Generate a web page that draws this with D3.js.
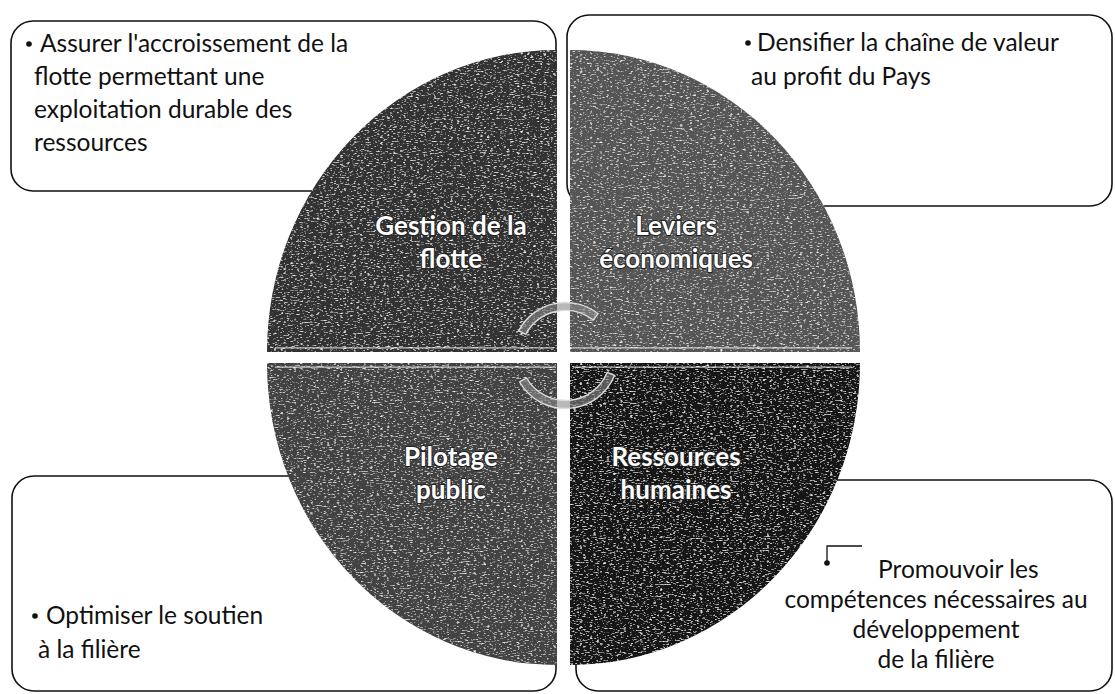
<!DOCTYPE html>
<meta charset="utf-8">
<style>
  body { margin: 0; background: #fff; }
  svg { display: block; }
  .box-text { font-family: Lato, "Open Sans", sans-serif; font-size: 24.5px; fill: #111; }
  .quad-label { font-family: Lato, "Open Sans", sans-serif; font-size: 26px; font-weight: bold; fill: #fff;
                paint-order: stroke; stroke: #222; stroke-width: 2px; }
</style>
<svg id="chart" width="1115" height="694"></svg>
<script src="https://cdn.jsdelivr.net/npm/d3@7"></script>
<script>
// quadrants, clockwise from top-left
var quadLabels = [["Gestion de la", "flotte"], ["Leviers", "économiques"], ["Ressources", "humaines"], ["Pilotage", "public"]];
var quadShares = [25, 25, 25, 25];
var quadColors = ["#303030", "#555555", "#121212", "#424242"];

// text of the four corner boxes (same order)
var boxTopLeft = ["Assurer l'accroissement de la", "flotte permettant  une", "exploitation durable des", "ressources"];
var boxTopRight = ["Densifier la chaîne de valeur", "au profit du Pays"];
var boxBottomRight = ["Promouvoir les", "compétences nécessaires au", "développement", "de la filière"];
var boxBottomLeft = ["Optimiser le soutien", "à la filière"];

var svg = d3.select("#chart");
var width = 1115, height = 694;

// the circle is a little taller than wide in the scan
var cx = 563.5, cy = 357.5, rx = 290, ry = 302;
var gapX = 6.5, gapY = 5.5;

// ---- boxes behind the circle
var boxes = [
  {x: 11, y: 21, w: 545, h: 170},
  {x: 567, y: 15, w: 545, h: 191},
  {x: 576, y: 480, w: 536, h: 211},
  {x: 12, y: 476, w: 544, h: 215}
];
svg.append("g").selectAll("rect").data(boxes).join("rect")
  .attr("x", d => d.x).attr("y", d => d.y)
  .attr("width", d => d.w).attr("height", d => d.h)
  .attr("rx", 22).attr("ry", 22)
  .attr("fill", "#fff").attr("stroke", "#111").attr("stroke-width", 1.6);

// grain to imitate the halftone of the scan (horizontal streaks)
var defs = svg.append("defs");
var f = defs.append("filter").attr("id", "grain").attr("x", 0).attr("y", 0).attr("width", 1).attr("height", 1);
f.append("feTurbulence").attr("type", "fractalNoise").attr("baseFrequency", "0.3 0.95").attr("numOctaves", 2).attr("seed", 4).attr("result", "n");
f.append("feColorMatrix").attr("in", "n").attr("type", "matrix")
  .attr("values", "0 0 0 0 1  0 0 0 0 1  0 0 0 0 1  3 0 0 0 -1.7").attr("result", "w");
f.append("feComposite").attr("in", "w").attr("in2", "SourceGraphic").attr("operator", "in").attr("result", "wm");
var m = f.append("feMerge");
m.append("feMergeNode").attr("in", "SourceGraphic");
m.append("feMergeNode").attr("in", "wm");

// ---- quadrants
var pie = d3.pie().sort(null).startAngle(-Math.PI / 2).endAngle(Math.PI * 1.5);
var arc = d3.arc().innerRadius(0).outerRadius(rx);
var labelArc = d3.arc().innerRadius(150).outerRadius(150);
var slices = pie(quadShares);
var signs = [[-1, -1], [1, -1], [1, 1], [-1, 1]];

var quads = svg.append("g").selectAll("g").data(slices).join("g")
  .attr("transform", (d, i) => "translate(" + (cx + signs[i][0] * gapX) + "," + (cy + signs[i][1] * gapY) + ") scale(1," + (ry / rx) + ")");

quads.append("path")
  .attr("d", arc)
  .attr("fill", (d, i) => quadColors[i])
  .attr("filter", "url(#grain)");

// thin white highlight along the flat horizontal edge
quads.append("line")
  .attr("x1", (d, i) => signs[i][0] * 3)
  .attr("x2", (d, i) => signs[i][0] * (rx - 8))
  .attr("y1", (d, i) => signs[i][1] * 4)
  .attr("y2", (d, i) => signs[i][1] * 4)
  .attr("stroke", "#fff").attr("stroke-opacity", 0.7).attr("stroke-width", 1.2);

// labels
slices.forEach(function (d, i) {
  var c = labelArc.centroid(d);
  var x = cx + signs[i][0] * gapX + c[0];
  var y = cy + signs[i][1] * gapY + c[1] * ry / rx;
  var t = svg.append("text").attr("class", "quad-label").attr("text-anchor", "middle")
    .attr("x", x).attr("y", y - 7);
  quadLabels[i].forEach(function (line, j) {
    t.append("tspan").attr("x", x).attr("dy", j === 0 ? 0 : 33).text(line);
  });
});

// ---- circular arrows in the middle
var ring = d3.arc().innerRadius(45).outerRadius(53);
var arrows = [
  {startAngle: -62 * Math.PI / 180, endAngle: 38 * Math.PI / 180},
  {startAngle: 112 * Math.PI / 180, endAngle: 240 * Math.PI / 180}
];
svg.append("g").attr("transform", "translate(" + (cx + 2) + "," + (cy - 2) + ")")
  .selectAll("path").data(arrows).join("path")
  .attr("d", ring)
  .attr("fill", "#8a8a8a").attr("fill-opacity", 0.6)
  .attr("stroke", "#ddd").attr("stroke-width", 1.4);

// ---- box texts
function bulletBlock(lines, bx, tx, tx2, y0, lh) {
  var g = svg.append("g");
  g.append("circle").attr("cx", bx).attr("cy", y0 - 8).attr("r", 2.8).attr("fill", "#111");
  lines.forEach(function (line, j) {
    g.append("text").attr("class", "box-text")
      .attr("x", j === 0 ? tx : tx2).attr("y", y0 + j * lh)
      .text(line);
  });
  return g;
}

bulletBlock(boxTopLeft, 29, 40, 34, 52, 33);
bulletBlock(boxTopRight, 748, 757, 751, 51, 34);
bulletBlock(boxBottomLeft, 35, 46, 38, 624, 34);

// bottom right: bullet with a little bracket line, then centred lines
var br = svg.append("g");
br.append("circle").attr("cx", 827).attr("cy", 563).attr("r", 2.8).attr("fill", "#111");
br.append("path").attr("d", "M827,563 V546 H862").attr("fill", "none").attr("stroke", "#111").attr("stroke-width", 1.3);
boxBottomRight.forEach(function (line, j) {
  br.append("text").attr("class", "box-text")
    .attr("x", j === 0 ? 878 : 936).attr("y", 578 + j * 30)
    .attr("text-anchor", j === 0 ? "start" : "middle")
    .text(line);
});
</script>
